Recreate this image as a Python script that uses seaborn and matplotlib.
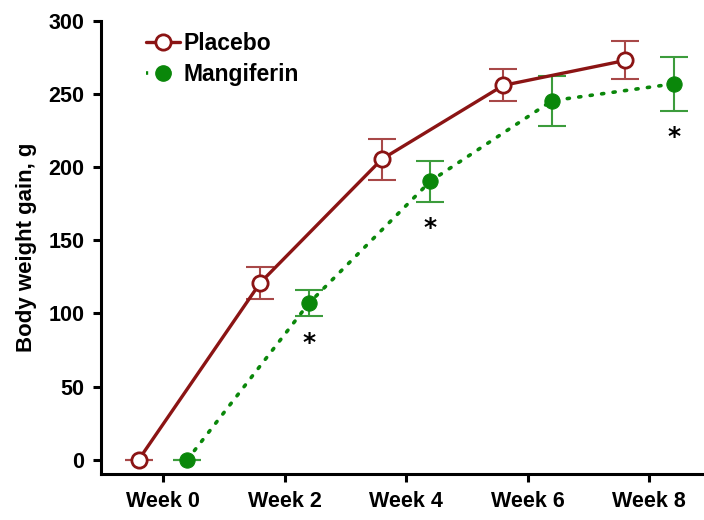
import numpy as np
import pandas as pd
import matplotlib
matplotlib.use("Agg")
import matplotlib.pyplot as plt
import seaborn as sns
from matplotlib.lines import Line2D

sns.set_style("ticks")
plt.rcParams["font.family"] = ["Liberation Sans", "DejaVu Sans"]
plt.rcParams["font.weight"] = "bold"
for key in ["text.color", "axes.labelcolor", "xtick.color", "ytick.color", "axes.edgecolor"]:
    plt.rcParams[key] = "black"

weeks = ["Week 0", "Week 2", "Week 4", "Week 6", "Week 8"]
placebo_mean = [0, 121, 205.5, 256, 273]
placebo_err = [0, 11, 14, 11, 13]
mangiferin_mean = [0, 107, 190.5, 245.5, 257]
mangiferin_err = [0, 9, 14, 17, 18.5]
significant = [False, True, True, False, True]

groups = ["Placebo", "Mangiferin"]
offsets = {"Placebo": -0.2, "Mangiferin": 0.2}

df = pd.concat([
    pd.DataFrame({"week": weeks, "idx": np.arange(len(weeks)), "gain": placebo_mean,
                  "err": placebo_err, "group": "Placebo"}),
    pd.DataFrame({"week": weeks, "idx": np.arange(len(weeks)), "gain": mangiferin_mean,
                  "err": mangiferin_err, "group": "Mangiferin"}),
], ignore_index=True)
df["pos"] = df["idx"] + df["group"].map(offsets)

line_col = {"Placebo": "#8b1414", "Mangiferin": "#0a870a"}
err_col = {"Placebo": "#a84848", "Mangiferin": "#3c9c3c"}

fig = plt.figure(figsize=(7.04, 5.2), dpi=100)
ax = fig.add_axes([0.1435, 0.0879, 0.8565, 0.8717])

for g in groups:
    sub = df[df["group"] == g]
    ax.errorbar(sub["pos"], sub["gain"], yerr=sub["err"], fmt="none",
                ecolor=err_col[g], elinewidth=1.5, capsize=10, capthick=1.5, zorder=2)

sub = df[df["group"] == "Placebo"]
sns.lineplot(data=sub, x="pos", y="gain", ax=ax, color=line_col["Placebo"],
             linewidth=2.4, marker="o", markersize=11, markerfacecolor="white",
             markeredgecolor=line_col["Placebo"], markeredgewidth=2, zorder=3,
             legend=False)
sub = df[df["group"] == "Mangiferin"]
sns.lineplot(data=sub, x="pos", y="gain", ax=ax, color=line_col["Mangiferin"],
             linewidth=2.6, linestyle=(0, (0.6, 2.6)),
             marker="o", markersize=11, markerfacecolor=line_col["Mangiferin"],
             markeredgecolor=line_col["Mangiferin"], zorder=3, legend=False)
ax.lines[-1].set_dash_capstyle("round")

# significance marks under Mangiferin points
for i, s in enumerate(significant):
    if s:
        y = mangiferin_mean[i] - mangiferin_err[i]
        ax.annotate("*", xy=(i + offsets["Mangiferin"], y), xytext=(0, -19),
                    textcoords="offset points", ha="center", va="center",
                    fontsize=18, fontweight="bold", family="DejaVu Sans", color="black")

ax.set_xlim(-0.51, 4.45)
ax.set_ylim(-10, 300)
ax.set_xticks(np.arange(len(weeks)))
ax.set_xticklabels(weeks)
ax.set_yticks([0, 50, 100, 150, 200, 250, 300])
ax.set_xlabel("")
ax.set_ylabel("Body weight gain, g", fontsize=16, fontweight="bold", labelpad=8)
ax.tick_params(axis="both", labelsize=15.5, width=2.2, length=6, direction="out", pad=6,
               colors="black")
for lbl in ax.get_xticklabels() + ax.get_yticklabels():
    lbl.set_fontweight("bold")
for side in ["left", "bottom"]:
    ax.spines[side].set_linewidth(2.2)
    ax.spines[side].set_color("black")
sns.despine(ax=ax)

handles = [
    Line2D([], [], color=line_col["Placebo"], linewidth=2.4, marker="o", markersize=11,
           markerfacecolor="white", markeredgewidth=2, markeredgecolor=line_col["Placebo"]),
    Line2D([], [], color=line_col["Mangiferin"], linewidth=2.6, linestyle=(0, (0.6, 2.6)),
           marker="o", markersize=11, markerfacecolor=line_col["Mangiferin"],
           markeredgecolor=line_col["Mangiferin"]),
]
leg = ax.legend(handles, groups, loc="upper left", bbox_to_anchor=(0.04, 1.022),
                frameon=False, handlelength=1.5, handletextpad=0.15, labelspacing=0.35,
                prop={"size": 16.5, "weight": "bold"})

fig.savefig("out.png", dpi=100)
